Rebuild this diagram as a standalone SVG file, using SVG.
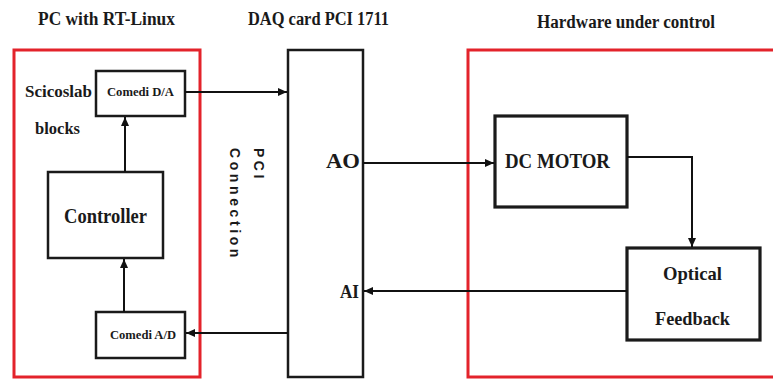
<svg xmlns="http://www.w3.org/2000/svg" width="773" height="379" viewBox="0 0 773 379">
<style>
.t{font-family:"Liberation Serif","Times New Roman",serif;font-weight:bold;fill:#1a1a1a}
.red{fill:none;stroke:#e3232b;stroke-width:3}
.blk{fill:#fff;stroke:#1a1a1a;stroke-width:2.5}
.thick{fill:#fff;stroke:#1a1a1a;stroke-width:3.2}
.c{fill:none;stroke:#111;stroke-width:2}
</style>
<defs>
<marker id="ah" markerUnits="userSpaceOnUse" markerWidth="9" markerHeight="8" refX="9" refY="4" orient="auto">
<path d="M0,0 L9,4 L0,8 z" fill="#111"/>
</marker>
</defs>
<rect width="773" height="379" fill="#fff"/>
<g id="titles">
<text class="t" x="38" y="25" font-size="18" textLength="137" lengthAdjust="spacingAndGlyphs">PC with RT-Linux</text>
<text class="t" x="248" y="25" font-size="18" textLength="141" lengthAdjust="spacingAndGlyphs">DAQ card PCI 1711</text>
<text class="t" x="537" y="28" font-size="18" textLength="178" lengthAdjust="spacingAndGlyphs">Hardware under control</text>
</g>
<g id="pc">
<rect class="red" x="14" y="50" width="186" height="327"/>
<text class="t" x="25" y="97" font-size="17" textLength="67" lengthAdjust="spacingAndGlyphs">Scicoslab</text>
<text class="t" x="35" y="134" font-size="17" textLength="45" lengthAdjust="spacingAndGlyphs">blocks</text>
</g>
<g id="comedi-da">
<rect class="blk" x="96" y="71" width="89" height="45"/>
<text class="t" x="107" y="96" font-size="12" textLength="67" lengthAdjust="spacingAndGlyphs">Comedi D/A</text>
</g>
<g id="controller">
<rect class="blk" x="48" y="172" width="115" height="86"/>
<text class="t" x="64" y="223" font-size="20" textLength="83" lengthAdjust="spacingAndGlyphs">Controller</text>
</g>
<g id="comedi-ad">
<rect class="blk" x="96" y="312" width="89" height="46"/>
<text class="t" x="110" y="339" font-size="12" textLength="66" lengthAdjust="spacingAndGlyphs">Comedi A/D</text>
</g>
<g id="pci-connection">
<text transform="translate(254,148) rotate(90)" x="0" y="0" font-family="Liberation Sans, Arial, sans-serif" font-weight="bold" font-size="14" letter-spacing="3.5" fill="#1a1a1a">PCI</text>
<text transform="translate(230,148) rotate(90)" x="0" y="0" font-family="Liberation Sans, Arial, sans-serif" font-weight="bold" font-size="14" letter-spacing="3.6" fill="#1a1a1a">Connection</text>
</g>
<g id="daq">
<rect class="blk" x="288" y="50" width="75" height="327" stroke="#333"/>
<text class="t" x="326" y="168" font-size="20" textLength="34" lengthAdjust="spacingAndGlyphs">AO</text>
<text class="t" x="340" y="298" font-size="18" textLength="19" lengthAdjust="spacingAndGlyphs">AI</text>
</g>
<g id="hardware">
<rect class="red" x="468" y="50" width="320" height="327"/>
</g>
<g id="dc-motor">
<rect class="thick" x="495" y="116" width="132" height="91"/>
<text class="t" x="505" y="168" font-size="20" textLength="105" lengthAdjust="spacingAndGlyphs">DC MOTOR</text>
</g>
<g id="optical-feedback">
<rect class="thick" x="627" y="248" width="133" height="92"/>
<text class="t" x="663" y="280" font-size="19" textLength="59" lengthAdjust="spacingAndGlyphs">Optical</text>
<text class="t" x="655" y="325" font-size="19" textLength="75" lengthAdjust="spacingAndGlyphs">Feedback</text>
</g>
<g id="connectors">
<line class="c" x1="125" y1="172" x2="125" y2="117" marker-end="url(#ah)"/>
<line class="c" x1="124" y1="312" x2="124" y2="259" marker-end="url(#ah)"/>
<line class="c" x1="185" y1="92" x2="287" y2="92" marker-end="url(#ah)"/>
<line class="c" x1="288" y1="333" x2="186" y2="333" marker-end="url(#ah)"/>
<line class="c" x1="363" y1="163" x2="494" y2="163" marker-end="url(#ah)"/>
<path class="c" d="M627,157 H692 V247" marker-end="url(#ah)"/>
<line class="c" x1="627" y1="291" x2="364" y2="291" marker-end="url(#ah)"/>
</g>
</svg>
